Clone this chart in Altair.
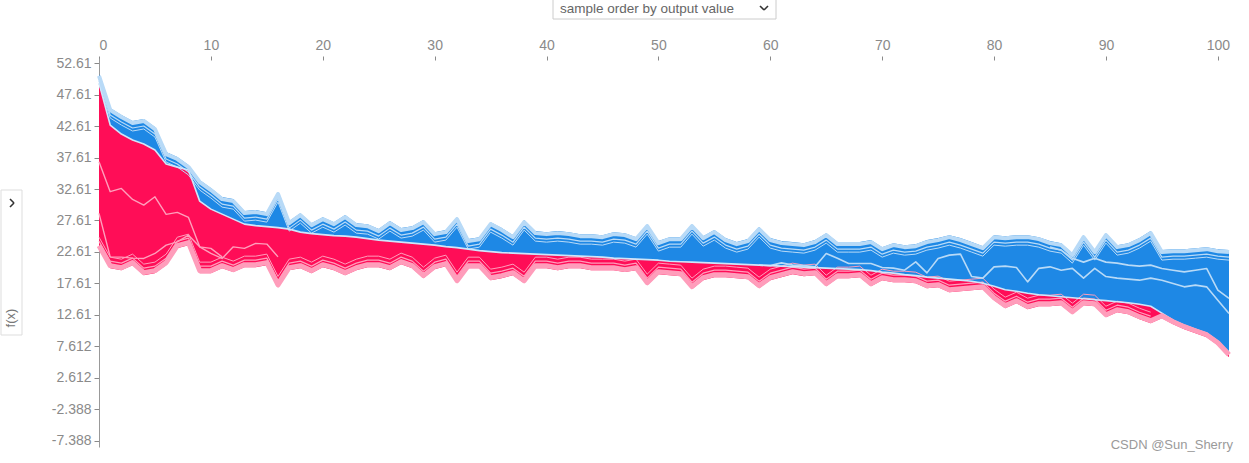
import altair as alt
import pandas as pd

# ---------------- data ----------------
sample_ids = list(range(102))

output_value = [
    49.48, 42.79, 41.36, 40.40, 39.77, 38.81, 36.58, 36.10, 35.63, 30.69,
    29.42, 28.62, 27.83, 27.03, 26.79, 26.63, 26.47, 26.24, 25.76, 25.52,
    25.36, 25.20, 25.12, 24.96, 24.72, 24.49, 24.33, 24.17, 24.01, 23.85,
    23.69, 23.45, 23.29, 23.05, 22.82, 22.66, 22.50, 22.42, 22.34, 22.26,
    22.18, 22.10, 22.02, 21.94, 21.86, 21.78, 21.62, 21.54, 21.46, 21.38,
    21.30, 21.14, 21.06, 20.99, 20.91, 20.83, 20.75, 20.67, 20.59, 20.51,
    20.43, 20.35, 20.27, 20.19, 20.11, 20.03, 19.95, 19.87, 19.79, 19.64,
    19.40, 19.24, 19.00, 18.84, 18.60, 18.44, 18.28, 18.12, 17.96, 17.64,
    17.16, 16.60, 16.36, 16.04, 15.80, 15.64, 15.48, 15.33, 15.17, 15.01,
    14.86, 14.70, 14.54, 14.30, 13.98, 12.87, 11.75, 10.96, 10.32, 9.68,
    8.41, 6.66]

upper_edge = [
    50.91, 45.50, 44.38, 43.43, 43.75, 42.47, 38.49, 37.70, 36.43, 34.04,
    32.77, 31.33, 31.01, 29.10, 29.26, 28.94, 32.13, 27.51, 28.78, 27.19,
    28.14, 27.35, 28.47, 27.19, 27.03, 26.24, 27.51, 26.40, 26.71, 27.67,
    25.76, 26.08, 28.14, 24.65, 24.96, 27.35, 26.40, 25.28, 27.67, 25.92,
    25.76, 25.92, 25.76, 25.44, 25.44, 25.28, 25.76, 25.60, 24.96, 27.03,
    24.33, 24.96, 24.96, 27.03, 25.12, 26.08, 24.81, 24.17, 24.65, 26.56,
    24.81, 24.33, 24.17, 24.01, 24.49, 25.60, 24.17, 24.17, 24.17, 24.49,
    23.37, 24.01, 23.69, 23.85, 24.49, 24.81, 25.28, 24.81, 24.17, 23.53,
    25.28, 25.12, 25.28, 25.28, 24.96, 24.33, 24.01, 22.42, 25.28, 22.90,
    25.60, 23.69, 24.01, 24.81, 25.92, 22.90, 23.05, 23.05, 23.21, 23.37,
    23.05, 22.90]

lower_edge = [
    23.21, 20.03, 19.71, 20.51, 18.92, 19.24, 20.51, 23.21, 23.69, 19.24,
    19.24, 20.03, 19.40, 20.19, 20.19, 20.51, 16.96, 19.71, 20.03, 19.24,
    20.19, 19.71, 18.92, 19.71, 20.19, 20.19, 19.71, 20.67, 20.03, 18.44,
    19.87, 20.35, 17.64, 20.03, 20.03, 18.12, 18.44, 18.92, 17.64, 20.03,
    20.03, 19.71, 20.03, 20.03, 19.71, 19.71, 19.71, 19.40, 19.71, 17.33,
    19.08, 18.92, 18.76, 16.69, 18.12, 18.60, 18.60, 18.44, 18.28, 16.85,
    18.12, 18.60, 19.08, 18.76, 18.92, 17.16, 18.44, 18.44, 18.60, 17.16,
    18.12, 17.80, 17.80, 17.64, 16.85, 17.01, 16.21, 16.37, 16.53, 16.69,
    14.94, 13.67, 14.46, 13.51, 13.98, 13.98, 14.14, 12.71, 14.14, 13.98,
    12.23, 13.03, 12.71, 11.91, 11.28, 12.07, 11.12, 10.32, 9.68, 9.05,
    7.78, 5.87]

# feature boundaries inside the red (positive) stack
red_line_a_ids = list(range(0, 12))
red_line_a = [36.95, 32.19, 32.71, 30.96, 30.06, 31.38, 28.58, 28.90, 28.10,
              23.42, 23.17, 21.83]
red_line_b_ids = list(range(0, 17))
red_line_b = [28.73, 21.83, 21.78, 21.62, 21.57, 22.37, 23.69, 24.22, 25.28,
              23.42, 22.37, 21.57, 23.42, 23.17, 23.97, 23.86, 21.83]

# feature boundaries inside the blue (negative) stack
blue_line_a_ids = list(range(59, 102))
blue_line_a = [20.51, 20.43,
               20.87, 20.51, 20.43, 20.24, 22.37, 21.62, 20.78, 20.78, 20.78, 20.14,
               20.03, 19.71, 21.03, 19.28, 21.57, 22.10, 22.26, 18.70, 18.44, 20.24,
               20.35, 20.14, 17.85, 20.00, 20.24, 19.71, 20.00, 18.44, 20.00, 18.70,
               18.44, 18.28, 18.12, 18.44, 18.12, 17.59, 17.06, 17.33, 17.06, 14.94,
               12.82]
blue_line_b_ids = list(range(85, 102))
blue_line_b = [23.40, 22.90, 21.60,
               20.99, 21.62, 20.99, 20.83, 20.51, 20.35, 20.51, 19.98, 19.71, 19.44,
               19.71, 19.98, 16.53, 15.23]

x_ticks = [0, 10, 20, 30, 40, 50, 60, 70, 80, 90, 100]
y_ticks = [-7.388, -2.388, 2.612, 7.612, 12.612, 17.612, 22.612, 27.612,
           32.612, 37.612, 42.612, 47.612, 52.612]

# ---------------- styling ----------------
RED = "#FF0D57"
BLUE = "#1E88E5"
PINK = "#FF9DBB"
LBLUE = "#B8DAF7"
GREY = "#8a8a8a"
FONT = "Liberation Sans"

df = pd.DataFrame({"sample": sample_ids, "fx": output_value,
                   "top": upper_edge, "bottom": lower_edge})
df_red = df[df["sample"] <= 94]
rla = pd.DataFrame({"sample": red_line_a_ids, "v": red_line_a})
rlb = pd.DataFrame({"sample": red_line_b_ids, "v": red_line_b})
bla = pd.DataFrame({"sample": blue_line_a_ids, "v": blue_line_a})
blb = pd.DataFrame({"sample": blue_line_b_ids, "v": blue_line_b})

xs = alt.Scale(domain=[0, 101], nice=False, zero=False)
ys = alt.Scale(domain=[-8.41, 53.45], nice=False, zero=False)

xaxis = alt.Axis(orient="top", values=x_ticks, grid=False, domain=False,
                 tickSize=4, tickColor=GREY, labelColor=GREY, labelFontSize=14,
                 labelFont=FONT, labelPadding=4, offset=-2, title=None)
yaxis = alt.Axis(values=y_ticks, grid=False, domain=True, domainColor="#999999",
                 tickSize=5, tickColor=GREY, labelColor=GREY, labelFontSize=14,
                 labelFont=FONT, labelPadding=3, title=None,
                 labelExpr="datum.value < 0 ? '-' + format(-datum.value, '.4') : format(datum.value, '.4')")


def X():
    return alt.X("sample:Q", scale=xs, axis=xaxis, title=None)


def Y(field):
    return alt.Y(field, scale=ys, axis=yaxis, title=None)


blue_area = alt.Chart(df).mark_area(color=BLUE).encode(
    x=X(), y=Y("top:Q"), y2=alt.Y2("fx:Q"))
red_area = alt.Chart(df).mark_area(color=RED).encode(
    x=X(), y=Y("fx:Q"), y2=alt.Y2("bottom:Q"))


def line(data, field, color, width, offset=0):
    kw = dict(color=color, strokeWidth=width, strokeJoin="round")
    if offset:
        kw["yOffset"] = offset
    return alt.Chart(data).mark_line(**kw).encode(x=X(), y=Y(field))


layers = [
    blue_area,
    red_area,
    line(rla, "v:Q", "#FF9FBC", 1.4),
    line(rlb, "v:Q", "#FF9FBC", 1.4),
    line(df_red, "bottom:Q", PINK, 1.2, -7),
    line(df_red, "bottom:Q", PINK, 1.0, -11),
    line(df, "top:Q", LBLUE, 1.2, 7),
    line(df, "top:Q", LBLUE, 1.0, 10),
    line(bla, "v:Q", LBLUE, 1.6),
    line(blb, "v:Q", LBLUE, 1.6),
    line(df, "fx:Q", "#CFE5F9", 1.6),
    line(df, "top:Q", LBLUE, 4, 2),
    line(df, "bottom:Q", PINK, 5, -2.5),
]

# ---------------- decorations (UI chrome of the original widget) ----------------
one = pd.DataFrame({"t": ["sample order by output value"]})
dropdown_box = alt.Chart(one).mark_rect(filled=False, stroke="#cccccc", strokeWidth=1).encode(
    x=alt.value(454), x2=alt.value(677), y=alt.value(-59), y2=alt.value(-39))
dropdown_txt = alt.Chart(one).mark_text(align="left", baseline="middle", fontSize=13.5,
                                        font=FONT, color="#666666").encode(
    x=alt.value(461), y=alt.value(-49), text="t:N")
chev1 = alt.Chart(one).mark_rule(color="#333333", strokeWidth=1.6).encode(
    x=alt.value(661), y=alt.value(-52), x2=alt.value(665), y2=alt.value(-48))
chev2 = alt.Chart(one).mark_rule(color="#333333", strokeWidth=1.6).encode(
    x=alt.value(665), y=alt.value(-48), x2=alt.value(669), y2=alt.value(-52))

side_box = alt.Chart(one).mark_rect(filled=False, stroke="#dddddd", strokeWidth=1).encode(
    x=alt.value(-98), x2=alt.value(-77), y=alt.value(132), y2=alt.value(277))
side_txt = alt.Chart(pd.DataFrame({"t": ["f(x)"]})).mark_text(
    angle=270, align="center", baseline="middle", fontSize=13, font=FONT,
    color="#777777").encode(x=alt.value(-88), y=alt.value(260), text="t:N")
schev1 = alt.Chart(one).mark_rule(color="#333333", strokeWidth=1.6).encode(
    x=alt.value(-89), y=alt.value(141), x2=alt.value(-85), y2=alt.value(145))
schev2 = alt.Chart(one).mark_rule(color="#333333", strokeWidth=1.6).encode(
    x=alt.value(-85), y=alt.value(145), x2=alt.value(-89), y2=alt.value(149))

watermark = alt.Chart(pd.DataFrame({"t": ["CSDN @Sun_Sherry"]})).mark_text(
    align="right", baseline="middle", fontSize=13, font=FONT, color="#9a9a9a").encode(
    x=alt.value(1134), y=alt.value(387), text="t:N")

chart = alt.layer(
    *layers, dropdown_box, dropdown_txt, chev1, chev2,
    side_box, side_txt, schev1, schev2, watermark
).properties(
    width=1130, height=389,
    autosize=alt.AutoSizeParams(type="none"),
    padding={"left": 99, "top": 58, "right": 20, "bottom": 16},
    background="white",
).configure_view(strokeWidth=0)

chart.save("out.html", embed_options={"renderer": "svg", "actions": False})
